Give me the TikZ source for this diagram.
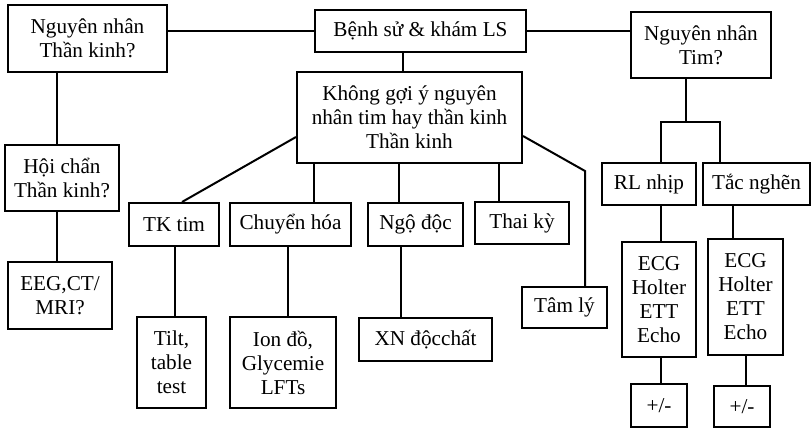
\documentclass[tikz,border=0pt]{standalone}
\usepackage{fontspec}
\setmainfont{Liberation Serif}
\begin{document}
\begin{tikzpicture}[x=0.5pt,y=-0.5pt,line width=1pt,
  box/.style 2 args={draw,line width=1pt,align=center,inner sep=0pt,
    minimum width=#1*0.5pt,minimum height=#2*0.5pt,
    font=\fontsize{10.6pt}{12pt}\selectfont},
  link/.style={draw,line width=1pt}]
\useasboundingbox (0,0) rectangle (811,428);

% top row
\node[box={159}{67}] (nt) at (87.5,38.5) {Nguyên nhân\\Thần kinh?};
\node[box={211}{42}] (bs) at (420.5,31) {Bệnh sử \& khám LS};
\node[box={140}{66}] (tim) at (701,45) {Nguyên nhân\\Tim?};
\node[box={225}{91}] (kg) at (409.5,117.5) {Không gợi ý nguyên\\nhân tim hay thần kinh\\Thần kinh};

% neurological branch
\node[box={114}{66}] (hc) at (62,178) {Hội chẩn\\Thần kinh?};
\node[box={104}{67}] (eeg) at (60,295.5) {EEG,CT/\\MRI?};

% unexplained branch
\node[box={90}{43}] (tk) at (174,224.5) {TK tim};
\node[box={69}{91}] (tilt) at (171.5,362.5) {Tilt,\\table\\test};
\node[box={121}{43}] (ch) at (290.5,224.5) {Chuyển hóa};
\node[box={106}{91}] (ion) at (283,362.5) {Ion đồ,\\Glycemie\\LFTs};
\node[box={95}{43}] (nd) at (415.5,224.5) {Ngộ độc};
\node[box={133}{43}] (xn) at (425.5,339.5) {XN độcchất};
\node[box={94}{42}] (tk2) at (522,223) {Thai kỳ};
\node[box={85}{41}] (tl) at (564.5,307.5) {Tâm lý};

% cardiac branch
\node[box={94}{42}] (rl) at (649,184) {RL nhịp};
\node[box={107}{42}] (tn) at (756.5,184) {Tắc nghẽn};
\node[box={74}{115}] (ecga) at (659,299.5) {ECG\\Holter\\ETT\\Echo};
\node[box={75}{116}] (ecgb) at (745.5,297) {ECG\\Holter\\ETT\\Echo};
\node[box={56}{43}] (pma) at (659,405.5) {+/-};
\node[box={56}{41}] (pmb) at (742,406.5) {+/-};

% connectors
\draw[link] (bs.west) -- (bs.west -| nt.east);
\draw[link] (bs.east) -- (bs.east -| tim.west);
\draw[link] ([xshift=-8.75pt]bs.south) -- ([xshift=-8.75pt]bs.south |- kg.north);

\draw[link] ([xshift=-15.25pt]nt.south) -- ([xshift=-15.25pt]nt.south |- hc.north);
\draw[link] ([xshift=-2.5pt]hc.south) -- ([xshift=-2.5pt]hc.south |- eeg.north);

\draw[link] ([yshift=13.5pt]kg.south west) -- ([xshift=4pt]tk.north);
\draw[link] ([xshift=-47.75pt]kg.south) -- ([xshift=-47.75pt]kg.south |- ch.north);
\draw[link] ([xshift=-5.25pt]kg.south) -- ([xshift=-5.25pt]kg.south |- nd.north);
\draw[link] ([xshift=44.75pt]kg.south) -- ([xshift=44.75pt]kg.south |- tk2.north);
\draw[link] ([yshift=14pt]kg.south east) -- ([xshift=10.25pt,yshift=57.5pt]tl.north) -- ([xshift=10.25pt]tl.north);

\draw[link] ([xshift=0.5pt]tk.south) -- ([xshift=0.5pt]tk.south |- tilt.north);
\draw[link] ([xshift=-1.25pt]ch.south) -- ([xshift=-1.25pt]ch.south |- ion.north);
\draw[link] ([xshift=-7.25pt]nd.south) -- ([xshift=-7.25pt]nd.south |- xn.north);

\coordinate (tsplit) at ([xshift=-7.5pt,yshift=-21.5pt]tim.south);
\draw[link] ([xshift=-7.5pt]tim.south) -- (tsplit);
\draw[link] ([xshift=6pt]rl.north) |- (tsplit) -| ([xshift=-18.25pt]tn.north);
\draw[link] ([xshift=6pt]rl.south) -- ([xshift=6pt]rl.south |- ecga.north);
\draw[link] ([xshift=-11.75pt]tn.south) -- ([xshift=-11.75pt]tn.south |- ecgb.north);
\draw[link] ([xshift=1pt]ecga.south) -- ([xshift=1pt]ecga.south |- pma.north);
\draw[link] (ecgb.south) -- (ecgb.south |- pmb.north);
\end{tikzpicture}
\end{document}
